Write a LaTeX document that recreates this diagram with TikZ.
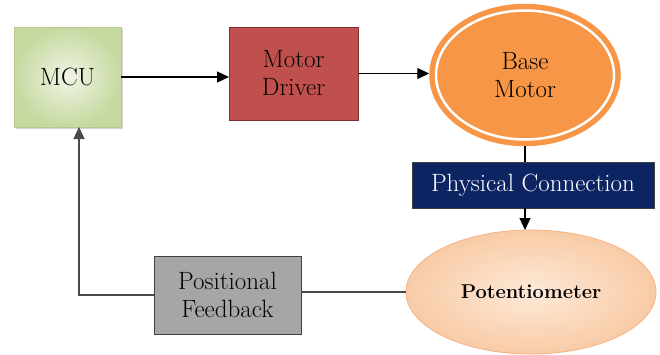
\documentclass[tikz,border=0pt]{standalone}
\usetikzlibrary{arrows.meta,shapes.geometric,shadows}

\definecolor{mcuhi}{HTML}{F1F5E6}
\definecolor{mcugreen}{HTML}{C6D9A0}
\definecolor{mculine}{HTML}{B5C98E}
\definecolor{drvred}{HTML}{C0504D}
\definecolor{drvline}{HTML}{7F2F2D}
\definecolor{motororange}{HTML}{F79646}
\definecolor{pcnavy}{HTML}{0D2462}
\definecolor{pothi}{HTML}{FDE9D8}
\definecolor{potlo}{HTML}{F9CBA6}
\definecolor{potline}{HTML}{F4B183}
\definecolor{fbgray}{HTML}{A6A6A6}
\definecolor{fbline}{HTML}{404040}
\definecolor{wire}{HTML}{4A4A4A}

\tikzset{
    every node/.style={font=\fontsize{25}{28}\selectfont, align=center,
                       inner sep=0pt, outer sep=0pt, text=black},
    blk/.style={rectangle, line width=0.8pt},
    link/.style={-{Triangle[length=12pt,width=11pt]}, line width=1.2pt},
    back/.style={draw=wire, line width=1.2pt},
}

\begin{document}
\begin{tikzpicture}[x=1pt,y=-1pt]
    \useasboundingbox (0,0) rectangle (660,354);
    \node (mcu) at (67.5,77) [blk, minimum width=107pt, minimum height=100pt,
                              draw=mculine, inner color=mcuhi, outer color=mcugreen,
                              drop shadow={shadow xshift=2pt, shadow yshift=-2pt, opacity=.35}] {MCU};
    \node (drv) at (293.5,73.5) [blk, minimum width=129pt, minimum height=93pt,
                                 draw=drvline, fill=drvred] {Motor\\Driver};
    \node (bm) at (525,75) [ellipse, minimum width=178pt, minimum height=129pt,
                            fill=motororange, draw=motororange, line width=5.5pt,
                            double=white, double distance=2.5pt, outer sep=6.75pt] {Base\\Motor};
    \node (pc) at (533,185) [blk, minimum width=242pt, minimum height=46pt,
                             draw=fbline, fill=pcnavy, text=white] {Physical Connection};
    \node (pot) at (531,292) [ellipse, minimum width=250pt, minimum height=124pt,
                              draw=potline, line width=0.8pt,
                              inner color=pothi, outer color=potlo,
                              font=\fontsize{20}{24}\selectfont\bfseries] {Potentiometer};
    \node (fb) at (227.5,295) [blk, minimum width=147pt, minimum height=78pt,
                               draw=fbline, fill=fbgray] {Positional\\Feedback};
    \coordinate (drop) at (pc.south -| bm.south);

    % forward path
    \foreach \Source/\Target in {mcu/drv, drv/bm}
        \draw[link] (\Source.east) -- (\Source.east -| \Target.west);
    \draw[line width=1.2pt] (bm.south) -- (bm.south |- pc.north);
    \draw[link] (drop) -- (drop |- pot.north);

    % feedback path
    \draw[back] (pot.west) -- (pot.west -| fb.east);
    \draw[back, link] (fb.west) -| ([xshift=11.5pt]mcu.south);
\end{tikzpicture}
\end{document}
